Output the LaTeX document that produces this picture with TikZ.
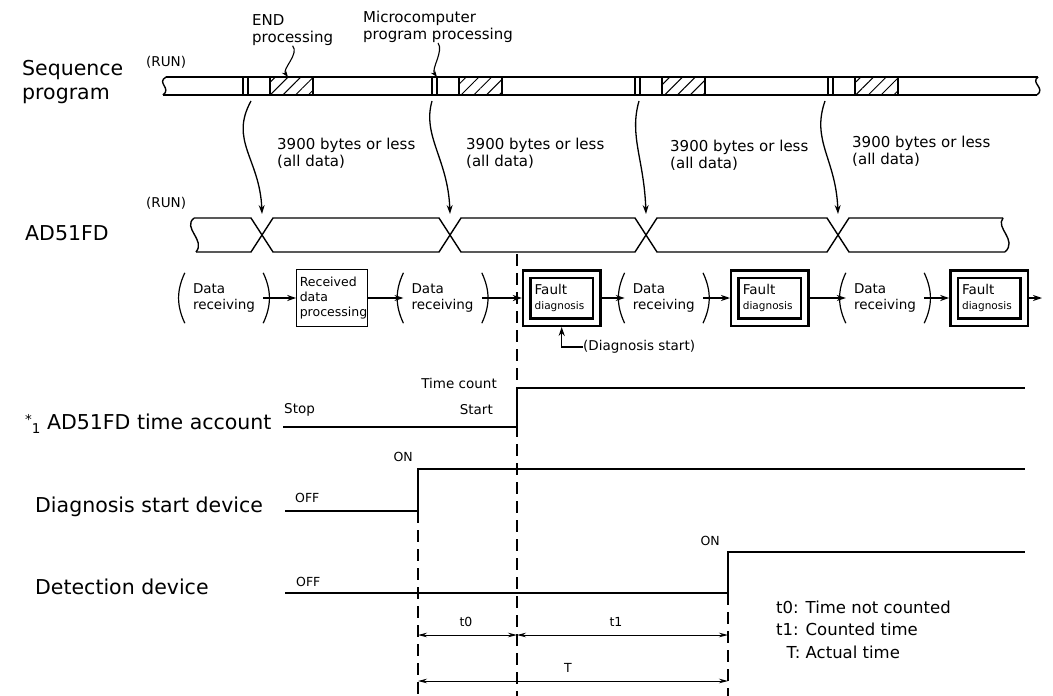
\documentclass[tikz,border=0pt]{standalone}
\usepackage{fontspec}
\setmainfont{DejaVu Sans}
\usepackage{tikz}
\usetikzlibrary{arrows.meta, positioning, patterns.meta}

\newcommand{\fntL}{\fontsize{20.5}{24}\selectfont}
\newcommand{\fntM}{\fontsize{15}{17}\selectfont}
\newcommand{\fntS}{\fontsize{13.5}{15.5}\selectfont}
\newcommand{\fntT}{\fontsize{12.5}{14}\selectfont}

\begin{document}
\begin{tikzpicture}[
    x=1pt, y=-1pt,
    lbl/.style={font=\fntL, anchor=west, align=left, inner sep=0pt},
    note/.style={font=\fntM, anchor=west, align=left, inner sep=0pt},
    tag/.style={font=\fntT, inner sep=0pt},
    bar/.style={line width=1.4pt},
    sig/.style={line width=2.3pt},
    recv/.style={minimum width=78pt, minimum height=50pt, text width=62pt, inner xsep=8pt, inner ysep=0pt, align=left, font=\fntS},
    proc/.style={draw, line width=1.2pt, minimum width=71pt, minimum height=57pt, text width=65pt, inner xsep=3pt, align=left, font=\fontsize{12.5}{15}\selectfont},
    fault/.style={draw, double, double distance=5pt, line width=2.4pt, minimum width=70pt, minimum height=48pt, text width=54pt, inner xsep=8pt, align=left, font=\fntS, outer sep=4.9pt},
    arr/.style={-{Stealth[length=9pt, width=6pt]}, line width=1.3pt},
    dim/.style={{Stealth[length=9pt, width=4.5pt]}-{Stealth[length=9pt, width=4.5pt]}, line width=0.9pt},
    guide/.style={dash pattern=on 12pt off 7pt, line width=1.2pt},
    hatch/.style={pattern={Lines[angle=45, distance=9pt, line width=1pt]}}
]
\useasboundingbox (0,0) rectangle (1053,696);

% Row labels
\node[lbl] (seqlbl) at (22,82) {Sequence\\program};
\node[lbl] (adlbl) at (25,233) {AD51FD};
\node[lbl] (acclbl) at (25,424) {\raisebox{5pt}{\fntS *}\raisebox{-4pt}{\fntS 1}\ AD51FD time account};
\node[lbl] (dslbl) at (35,507) {Diagnosis start device};
\node[lbl] (detlbl) at (35,587) {Detection device};

% Sequence program
\node[note] (endlbl) at (252,30) {END\\processing};
\node[note] (mclbl) at (363,27) {Microcomputer\\program processing};
\node[tag, anchor=west, font=\fntS] (run1) at (146,62) {(RUN)};
\draw[bar] (166,77) .. controls (156,83) and (172,88) .. (163,95);
\draw[bar] (1038,77) .. controls (1030,83) and (1046,88) .. (1037,95);
\draw[bar] (166,77) -- (1038,77);
\draw[bar] (163,95) -- (1037,95);
\foreach \x in {243,432,635,828} {
  \draw[bar] (\x,77) -- (\x,95);
  \draw[bar] (\x+5,77) -- (\x+5,95);
  \draw[bar, hatch] (\x+27,77) rectangle (\x+70,95);
}
\coordinate (endtip) at (288,77);
\coordinate (mctip) at (437,77);
\draw[-{Stealth[length=7pt, width=5pt]}, line width=1.1pt] (endlbl.south) .. controls +(7,8) and +(-6,-8) .. (endtip);
\draw[-{Stealth[length=7pt, width=5pt]}, line width=1.1pt] (mclbl.south) .. controls +(6,8) and +(-6,-8) .. (mctip);

% Transfer to AD51FD
\coordinate (s1) at (251,101);
\coordinate (s2) at (432,101);
\coordinate (s3) at (639,101);
\coordinate (s4) at (825,101);
\coordinate (c1) at (262,214);
\coordinate (c2) at (450,214);
\coordinate (c3) at (646,214);
\coordinate (c4) at (838,214);
\draw[arr] (s1) .. controls +(-22,40) and +(-2,-55) .. (c1);
\draw[arr] (s2) .. controls +(-10,35) and +(-2,-55) .. (c2);
\draw[arr] (s3) .. controls +(-10,35) and +(-2,-55) .. (c3);
\draw[arr] (s4) .. controls +(-14,40) and +(-2,-55) .. (c4);
\node[note] (b1) at (277,153) {3900 bytes or less\\(all data)};
\node[note] (b2) at (466,153) {3900 bytes or less\\(all data)};
\node[note] (b3) at (670,155) {3900 bytes or less\\(all data)};
\node[note] (b4) at (852,151) {3900 bytes or less\\(all data)};

% AD51FD
\node[tag, anchor=west, font=\fntS] (run2) at (146,203) {(RUN)};
\draw[bar] (194,218) .. controls (182,228) and (206,240) .. (196,252);
\draw[bar] (1003,218) .. controls (995,228) and (1018,240) .. (1005,252);
\draw[bar] (194,218) -- (251,218) -- (273,252) -- (439,252) -- (461,218) -- (635,218) -- (657,252) -- (827,252) -- (849,218) -- (1003,218);
\draw[bar] (196,252) -- (251,252) -- (273,218) -- (439,218) -- (461,252) -- (635,252) -- (657,218) -- (827,218) -- (849,252) -- (1005,252);

% Processing steps
\node[recv] (dr1) at (224,298) {Data\\receiving};
\node[proc, right=33pt of dr1] (rdp) {Received\\data\\processing};
\node[recv, right=35pt of rdp] (dr2) {Data\\receiving};
\node[fault, right=40pt of dr2] (fd1) {Fault\\{\fontsize{10.5}{12}\selectfont diagnosis}};
\node[recv, right=23pt of fd1] (dr3) {Data\\receiving};
\node[fault, right=27pt of dr3] (fd2) {Fault\\{\fontsize{10.5}{12}\selectfont diagnosis}};
\node[recv, right=36pt of fd2] (dr4) {Data\\receiving};
\node[fault, right=25pt of dr4] (fd3) {Fault\\{\fontsize{10.5}{12}\selectfont diagnosis}};
\coordinate (fdend) at (1042,298);
\foreach \n in {dr1,dr2,dr3,dr4} {
  \draw[line width=1.2pt] (\n.north west) to[bend right=25] (\n.south west);
  \draw[line width=1.2pt] (\n.north east) to[bend left=25] (\n.south east);
}
\draw[arr] (dr1) -- (rdp);
\draw[arr] (rdp) -- (dr2);
\draw[arr] (dr2) -- (fd1);
\draw[arr] (fd1) -- (dr3);
\draw[arr] (dr3) -- (fd2);
\draw[arr] (fd2) -- (dr4);
\draw[arr] (dr4) -- (fd3);
\draw[arr] (fd3) -- (fdend);
\node[font=\fntS, anchor=west, inner sep=0pt] (dstart) at (583,347) {(Diagnosis start)};
\draw[arr] (dstart.west) -| (fd1.south);

% Guide lines
\draw[guide] (517,254) -- (517,696);
\draw[guide] (418,511) -- (418,696);
\draw[guide] (728,593) -- (728,696);

% Time account
\draw[sig] (283,427) -- (517,427) -- (517,388) -- (1025,388);
\node[font=\fntS, anchor=east, inner sep=0pt] (tclbl) at (497,383) {Time count};
\node[font=\fntS, anchor=west, inner sep=0pt] (stoplbl) at (284,410) {Stop};
\node[font=\fntS, anchor=east, inner sep=0pt] (startlbl) at (493,410) {Start};

% Diagnosis start device
\draw[sig] (285,511) -- (418,511) -- (418,469) -- (1025,469);
\node[tag, anchor=west] (off1) at (295,498) {OFF};
\node[tag, anchor=east] (on1) at (413,457) {ON};

% Detection device
\draw[sig] (285,593) -- (728,593) -- (728,552) -- (1025,552);
\node[tag, anchor=west] (off2) at (296,582) {OFF};
\node[tag, anchor=east] (on2) at (720,541) {ON};

% Times
\coordinate (ta) at (418,635);
\coordinate (tb) at (517,635);
\coordinate (tc) at (728,635);
\coordinate (td) at (418,681);
\coordinate (te) at (728,681);
\draw[dim] (ta) -- (tb);
\draw[dim] (tb) -- (tc);
\draw[dim] (td) -- (te);
\node[tag] (t0lbl) at (466,622) {t0};
\node[tag] (t1lbl) at (616,622) {t1};
\node[tag] (tlbl) at (568,668) {T};
\node[font=\fontsize{16.5}{22.5}\selectfont, anchor=west, inner sep=0pt] (legend) at (776,631)
  {\begin{tabular}{@{}r@{: }l@{}}t0 & Time not counted\\ t1 & Counted time\\ T & Actual time\end{tabular}};

\end{tikzpicture}
\end{document}
